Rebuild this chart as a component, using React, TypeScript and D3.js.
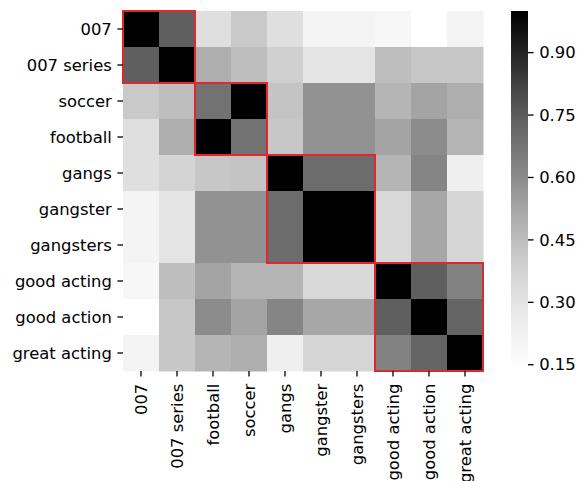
import * as d3 from "d3";

// row and column labels (note: soccer/football swapped between rows and columns)
const rowLabels = ["007", "007 series", "soccer", "football", "gangs", "gangster", "gangsters", "good acting", "good action", "great acting"];
const colLabels = ["007", "007 series", "football", "soccer", "gangs", "gangster", "gangsters", "good acting", "good action", "great acting"];

// similarity values, one array per row
const row007 = [1.0, 0.74, 0.32, 0.41, 0.32, 0.21, 0.21, 0.19, 0.135, 0.21];
const row007series = [0.74, 1.0, 0.5, 0.45, 0.39, 0.3, 0.3, 0.45, 0.42, 0.42];
const rowSoccer = [0.41, 0.45, 0.68, 1.0, 0.43, 0.58, 0.58, 0.48, 0.53, 0.5];
const rowFootball = [0.32, 0.5, 1.0, 0.68, 0.42, 0.58, 0.58, 0.53, 0.6, 0.48];
const rowGangs = [0.32, 0.37, 0.42, 0.43, 1.0, 0.7, 0.7, 0.48, 0.62, 0.24];
const rowGangster = [0.21, 0.3, 0.58, 0.58, 0.7, 1.0, 1.0, 0.35, 0.52, 0.36];
const rowGangsters = [0.21, 0.3, 0.58, 0.58, 0.7, 1.0, 1.0, 0.35, 0.52, 0.36];
const rowGoodActing = [0.19, 0.45, 0.53, 0.48, 0.48, 0.35, 0.35, 1.0, 0.74, 0.63];
const rowGoodAction = [0.135, 0.42, 0.6, 0.53, 0.62, 0.52, 0.52, 0.74, 1.0, 0.72];
const rowGreatActing = [0.21, 0.42, 0.48, 0.5, 0.24, 0.36, 0.36, 0.63, 0.72, 1.0];

const matrix = [row007, row007series, rowSoccer, rowFootball, rowGangs, rowGangster, rowGangsters, rowGoodActing, rowGoodAction, rowGreatActing];

// cluster boxes: [first index, last index]
const clusters = [[0, 1], [2, 3], [4, 6], [7, 9]];

const colorbarTicks = [0.15, 0.3, 0.45, 0.6, 0.75, 0.9];

const FONT = "'DejaVu Sans', sans-serif";

export default function App() {
  const left = 123, top = 11, right = 483, bottom = 371;
  const cbLeft = 511, cbRight = 528;
  const tickLen = 5.6, pad = 5.6, fs = 16.4;

  const all = matrix.flat();
  const vmin = d3.min(all)!;
  const vmax = d3.max(all)!;

  const x = d3.scaleBand<number>().domain(d3.range(colLabels.length)).range([left, right]);
  const y = d3.scaleBand<number>().domain(d3.range(rowLabels.length)).range([top, bottom]);
  const color = d3.scaleSequential(d3.interpolateGreys).domain([vmin, vmax]);
  const cbScale = d3.scaleLinear().domain([vmin, vmax]).range([bottom, top]);

  const stops = d3.range(0, 1.0001, 0.02);

  return (
    <svg width={578} height={481} style={{ position: "absolute", left: 0, top: 0, background: "#fff" }} fontFamily={FONT}>
      <defs>
        <linearGradient id="cb" x1="0" y1="1" x2="0" y2="0">
          {stops.map((t) => (
            <stop key={t} offset={t} stopColor={d3.interpolateGreys(t)} />
          ))}
        </linearGradient>
      </defs>
      <rect x={0} y={0} width={578} height={481} fill="#fff" />

      {/* cells */}
      {matrix.map((row, i) =>
        row.map((v, j) => (
          <rect key={`${i}-${j}`} x={x(j)} y={y(i)} width={x.bandwidth() + 0.5} height={y.bandwidth() + 0.5} fill={color(v)} />
        ))
      )}

      {/* cluster boxes */}
      {clusters.map(([a, b], k) => (
        <rect
          key={k}
          x={x(a)!}
          y={y(a)!}
          width={x(b)! + x.bandwidth() - x(a)!}
          height={y(b)! + y.bandwidth() - y(a)!}
          fill="none"
          stroke="#e2262c"
          strokeWidth={2}
        />
      ))}

      {/* y axis */}
      {rowLabels.map((lab, i) => {
        const cy = y(i)! + y.bandwidth() / 2;
        return (
          <g key={lab}>
            <line x1={left - tickLen} x2={left} y1={cy} y2={cy} stroke="#000" strokeWidth={1.3} />
            <text x={left - tickLen - pad} y={cy} dy="0.35em" textAnchor="end" fontSize={fs} fill="#000">
              {lab}
            </text>
          </g>
        );
      })}

      {/* x axis */}
      {colLabels.map((lab, j) => {
        const cx = x(j)! + x.bandwidth() / 2;
        return (
          <g key={lab}>
            <line x1={cx} x2={cx} y1={bottom} y2={bottom + tickLen} stroke="#000" strokeWidth={1.3} />
            <text
              transform={`translate(${cx},${bottom + tickLen + pad + 1.5}) rotate(-90)`}
              dy="0.35em"
              textAnchor="end"
              fontSize={fs}
              fill="#000"
            >
              {lab}
            </text>
          </g>
        );
      })}

      {/* colorbar */}
      <rect x={cbLeft} y={top} width={cbRight - cbLeft} height={bottom - top} fill="url(#cb)" />
      {colorbarTicks.map((t) => (
        <g key={t}>
          <line x1={cbRight} x2={cbRight + tickLen} y1={cbScale(t)} y2={cbScale(t)} stroke="#000" strokeWidth={1.3} />
          <text x={cbRight + tickLen + pad} y={cbScale(t)} dy="0.35em" fontSize={fs} fill="#000">
            {t.toFixed(2)}
          </text>
        </g>
      ))}
    </svg>
  );
}
